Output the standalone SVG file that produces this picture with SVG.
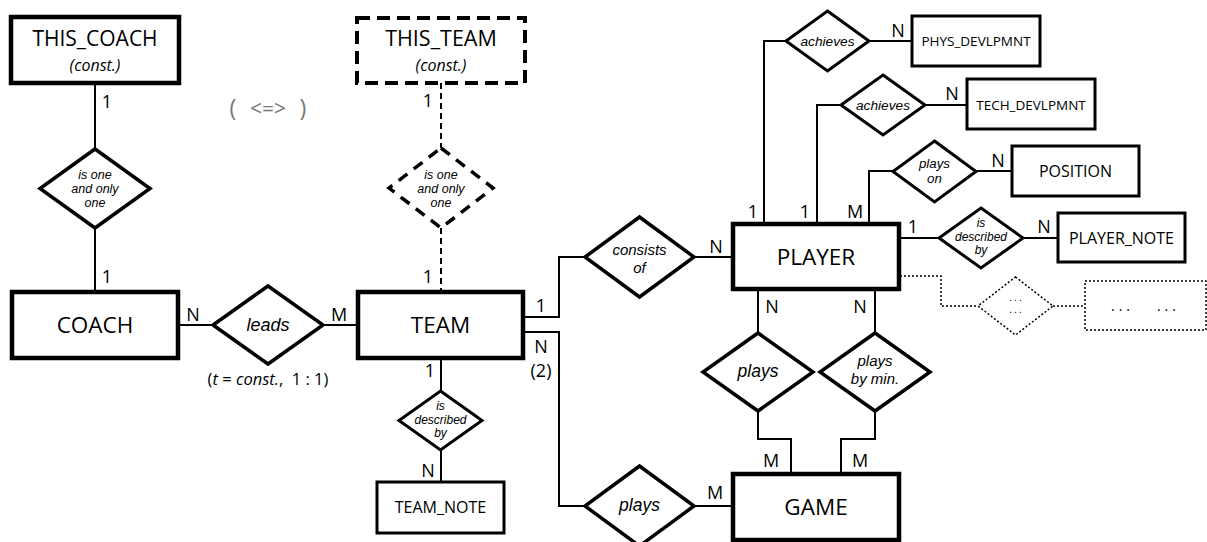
<svg xmlns="http://www.w3.org/2000/svg" width="1207" height="542" viewBox="0 0 1207 542">
<style>
text{font-family:"Open Sans","Noto Sans",sans-serif;fill:#000;text-anchor:middle}
.ri{font-family:"Liberation Sans",Arial,sans-serif;font-style:italic}
.ent{fill:#fff;stroke:#000;stroke-width:4.5}
.ent2{fill:#fff;stroke:#000;stroke-width:3}
.rel{fill:#fff;stroke:#000;stroke-width:3.5}
.rel2{fill:#fff;stroke:#000;stroke-width:3}
.dash{fill:#fff;stroke:#000;stroke-width:4;stroke-dasharray:13 7}
.dashd{fill:#fff;stroke:#000;stroke-width:3.5;stroke-dasharray:11 8}
.dot{fill:#fff;stroke:#000;stroke-width:1.5;stroke-dasharray:2 2}
.ln{fill:none;stroke:#000;stroke-width:2}
.lnd{fill:none;stroke:#000;stroke-width:2;stroke-dasharray:6 4}
.lndot{fill:none;stroke:#000;stroke-width:1.5;stroke-dasharray:2 2}
.big{font-size:22.5px}
.mid{font-size:16px}
.sm{font-size:13.5px}
.card{font-size:18px}
.it{font-style:italic}
</style>
<g id="connectors">
<line class="ln" x1="95" y1="83" x2="95" y2="149"/>
<line class="ln" x1="95" y1="228" x2="95" y2="292"/>
<line class="ln" x1="178" y1="325" x2="213" y2="325"/>
<line class="ln" x1="323" y1="325" x2="358" y2="325"/>
<line class="lnd" x1="441" y1="83" x2="441" y2="148"/>
<line class="lnd" x1="441" y1="228" x2="441" y2="292"/>
<line class="ln" x1="441" y1="358" x2="441" y2="391"/>
<line class="ln" x1="441" y1="450" x2="441" y2="482"/>
<polyline class="ln" points="523,317 559,317 559,257 585,257"/>
<polyline class="ln" points="523,332 559,332 559,506 585,506"/>
<line class="ln" x1="694" y1="257" x2="733" y2="257"/>
<polyline class="ln" points="764,224 764,41 786,41"/>
<line class="ln" x1="869" y1="41" x2="912" y2="41"/>
<polyline class="ln" points="817,224 817,105 841,105"/>
<line class="ln" x1="925" y1="105" x2="967" y2="105"/>
<polyline class="ln" points="869,224 869,171 893,171"/>
<line class="ln" x1="976" y1="171" x2="1012" y2="171"/>
<line class="ln" x1="900" y1="238" x2="939" y2="238"/>
<line class="ln" x1="1023" y1="238" x2="1058" y2="238"/>
<polyline class="lndot" points="900,276 941,276 941,306 978,306"/>
<line class="lndot" x1="1053" y1="306" x2="1085" y2="306"/>
<line class="ln" x1="758" y1="289" x2="758" y2="333"/>
<line class="ln" x1="875" y1="289" x2="875" y2="333"/>
<polyline class="ln" points="758,411 758,439 791,439 791,474"/>
<polyline class="ln" points="875,411 875,439 841,439 841,474"/>
<line class="ln" x1="694" y1="506" x2="733" y2="506"/>
</g>
<g id="labels">
<text class="card" x="107" y="108">1</text>
<text class="card" x="107" y="283">1</text>
<text class="card" x="193" y="321">N</text>
<text class="card" x="339" y="321">M</text>
<text class="card" x="428" y="107">1</text>
<text class="card" x="428" y="283">1</text>
<text class="card" x="430" y="377">1</text>
<text class="card" x="428" y="477">N</text>
<text class="card" x="541" y="312">1</text>
<text class="card" x="541" y="353">N</text>
<text class="card" x="541" y="377">(2)</text>
<text class="card" x="716" y="253">N</text>
<text class="card" x="753" y="218">1</text>
<text class="card" x="805" y="218">1</text>
<text class="card" x="855" y="218">M</text>
<text class="card" x="913" y="233">1</text>
<text class="card" x="1044" y="233">N</text>
<text class="card" x="772" y="313">N</text>
<text class="card" x="860" y="313">N</text>
<text class="card" x="771" y="467">M</text>
<text class="card" x="860" y="467">M</text>
<text class="card" x="715" y="499">M</text>
<text class="card" x="898" y="37">N</text>
<text class="card" x="952" y="100">N</text>
<text class="card" x="998" y="167">N</text>
<text y="116" style="font-size:23px;fill:#777"><tspan x="233">(</tspan><tspan x="268" style="font-size:21px">&lt;=&gt;</tspan><tspan x="303">)</tspan></text>
<text x="268" y="385" style="font-size:16.5px">(<tspan font-style="italic">t</tspan> = <tspan font-style="italic">const.</tspan>,&#160;&#160;1 : 1)</text>
</g>
<g id="this_coach">
<rect class="ent" x="11" y="17" width="168" height="66"/>
<text x="95" y="46" style="font-size:21px">THIS_COACH</text>
<text class="it" x="95" y="71" style="font-size:16px">(const.)</text>
</g>
<g id="this_team">
<rect class="dash" x="357" y="18" width="168" height="65"/>
<text x="441" y="46" style="font-size:21.5px">THIS_TEAM</text>
<text class="it" x="441" y="71" style="font-size:16px">(const.)</text>
</g>
<g id="rel_coach_one">
<polygon class="rel" points="95,149 150,188.5 95,228 40,188.5"/>
<text class="ri" style="font-size:12.5px"><tspan x="95" y="179">is one</tspan><tspan x="95" y="193">and only</tspan><tspan x="95" y="207">one</tspan></text>
</g>
<g id="rel_team_one">
<polygon class="dashd" points="441,148 493,188 441,228 389,188"/>
<text class="ri" style="font-size:12.5px"><tspan x="441" y="179">is one</tspan><tspan x="441" y="193">and only</tspan><tspan x="441" y="207">one</tspan></text>
</g>
<g id="coach">
<rect class="ent" x="12" y="292" width="166" height="66"/>
<text class="big" x="95" y="333">COACH</text>
</g>
<g id="leads">
<polygon class="rel" points="268,286 323,325 268,364 213,325"/>
<text class="ri" x="268" y="331" style="font-size:18px">leads</text>
</g>
<g id="team">
<rect class="ent" x="358" y="292" width="165" height="66"/>
<text class="big" x="440.5" y="333">TEAM</text>
</g>
<g id="team_desc">
<polygon class="rel2" points="440.5,391 482,420.5 440.5,450 399,420.5"/>
<text class="ri" style="font-size:12px"><tspan x="440.5" y="410">is</tspan><tspan x="440.5" y="423.5">described</tspan><tspan x="440.5" y="437">by</tspan></text>
</g>
<g id="team_note">
<rect class="ent2" x="377" y="482" width="127" height="51"/>
<text class="mid" x="440.5" y="513">TEAM_NOTE</text>
</g>
<g id="consists">
<polygon class="rel" points="639.5,217 694,257 639.5,297 585,257"/>
<text class="ri" style="font-size:15px"><tspan x="639.5" y="255">consists</tspan><tspan x="639.5" y="273">of</tspan></text>
</g>
<g id="team_plays">
<polygon class="rel" points="639.5,466 694,506 639.5,546 585,506"/>
<text class="ri" x="639.5" y="511" style="font-size:17.5px">plays</text>
</g>
<g id="player">
<rect class="ent" x="733" y="224" width="166" height="65"/>
<text class="big" x="816" y="265">PLAYER</text>
</g>
<g id="game">
<rect class="ent" x="733" y="474" width="166" height="66"/>
<text class="big" x="816" y="515">GAME</text>
</g>
<g id="player_plays">
<polygon class="rel" points="758,333 813,372 758,411 703,372"/>
<text class="ri" x="758" y="377" style="font-size:17.5px">plays</text>
</g>
<g id="player_plays_min">
<polygon class="rel" points="875,333 930,372 875,411 820,372"/>
<text class="ri" style="font-size:15px"><tspan x="875" y="366">plays</tspan><tspan x="875" y="384">by min.</tspan></text>
</g>
<g id="achieves_phys">
<polygon class="rel2" points="827.5,11 869,41 827.5,71 786,41"/>
<text class="ri" x="827.5" y="46" style="font-size:13.7px">achieves</text>
</g>
<g id="phys">
<rect class="ent2" x="912" y="16" width="128" height="50"/>
<text class="sm" x="976" y="46">PHYS_DEVLPMNT</text>
</g>
<g id="achieves_tech">
<polygon class="rel2" points="883,75 925,105 883,135 841,105"/>
<text class="ri" x="883" y="110" style="font-size:13.7px">achieves</text>
</g>
<g id="tech">
<rect class="ent2" x="967" y="79" width="128" height="50"/>
<text class="sm" x="1031" y="110">TECH_DEVLPMNT</text>
</g>
<g id="plays_on">
<polygon class="rel2" points="934.5,141 976,171.5 934.5,202 893,171.5"/>
<text class="ri" style="font-size:13.3px"><tspan x="934.5" y="167.5">plays</tspan><tspan x="934.5" y="182.5">on</tspan></text>
</g>
<g id="position">
<rect class="ent2" x="1012" y="146" width="127" height="50"/>
<text class="mid" x="1075.5" y="177">POSITION</text>
</g>
<g id="player_desc">
<polygon class="rel2" points="981,208 1023,238 981,268 939,238"/>
<text class="ri" style="font-size:12px"><tspan x="981" y="227">is</tspan><tspan x="981" y="240.5">described</tspan><tspan x="981" y="254">by</tspan></text>
</g>
<g id="player_note">
<rect class="ent2" x="1058" y="213" width="127" height="49"/>
<text class="mid" x="1121.5" y="244">PLAYER_NOTE</text>
</g>
<g id="more_rel">
<polygon class="dot" points="1015.5,277 1053,306 1015.5,335 978,306"/>
<text style="font-family:'Liberation Sans',sans-serif;font-size:10px;letter-spacing:2px"><tspan x="1016.5" y="301">...</tspan><tspan x="1016.5" y="312.5">...</tspan></text>
</g>
<g id="more_ent">
<rect class="dot" x="1085" y="281" width="121" height="49"/>
<text x="1145.5" y="311" style="font-size:14px;letter-spacing:4px">...&#160;&#160;&#160;...</text>
</g>
</svg>
